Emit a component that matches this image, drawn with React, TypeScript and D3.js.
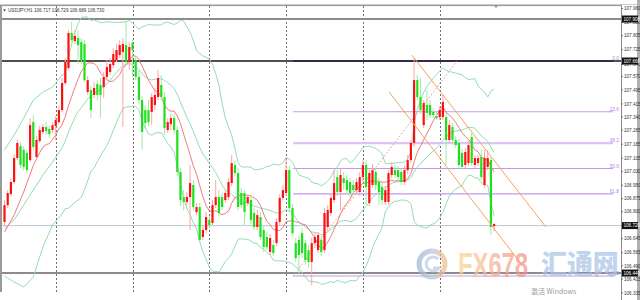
import React from "react";
import * as d3 from "d3";

// ---- USDJPY H1 candles ----
const opens = [106.741,106.837,106.900,106.969,107.106,107.174,107.152,107.135,107.094,107.311,107.112,107.203,107.255,107.283,107.272,107.266,107.289,107.311,107.380,107.534,107.620,107.820,107.774,107.791,107.768,107.757,107.483,107.494,107.466,107.529,107.523,107.511,107.569,107.597,107.637,107.666,107.694,107.711,107.751,107.654,107.763,107.666,107.569,107.437,107.380,107.380,107.369,107.409,107.454,107.523,107.454,107.266,107.300,107.334,107.266,107.026,106.883,106.855,106.883,106.952,106.797,106.826,106.655,106.695,106.752,106.735,106.837,106.883,106.883,106.866,106.883,106.963,107.066,107.020,106.906,106.906,106.849,106.866,106.792,106.712,106.769,106.695,106.655,106.569,106.609,106.620,106.741,106.878,106.906,107.037,106.820,106.620,106.638,106.677,106.620,106.580,106.512,106.620,106.580,106.638,106.580,106.712,106.792,106.866,106.997,106.912,106.991,106.980,106.969,106.952,106.923,106.912,106.997,107.066,106.849,106.952,107.026,106.969,106.940,106.855,106.855,107.009,107.037,107.037,107.026,106.969,107.037,107.094,107.192,107.551,107.454,107.294,107.409,107.409,107.369,107.346,107.340,107.340,107.340,107.209,107.283,107.209,107.192,107.135,107.066,107.077,107.226,107.066,107.077,107.112,106.952,107.055,107.094,106.717];
const highs = [106.866,106.923,106.991,107.129,107.209,107.197,107.174,107.152,107.334,107.351,107.232,107.289,107.300,107.311,107.289,107.311,107.346,107.403,107.563,107.677,107.837,107.883,107.837,107.837,107.791,107.780,107.574,107.517,107.540,107.551,107.563,107.597,107.666,107.677,107.734,107.757,107.780,107.791,107.883,107.768,107.780,107.689,107.609,107.460,107.409,107.437,107.477,107.506,107.609,107.580,107.483,107.334,107.357,107.357,107.289,107.049,106.923,106.912,107.066,106.980,106.849,106.849,106.718,106.797,106.775,106.866,106.980,106.923,106.906,106.923,106.991,107.123,107.094,107.049,106.935,106.923,106.900,106.889,106.820,106.809,106.797,106.718,106.683,106.672,106.638,106.763,106.900,106.952,107.112,107.060,106.843,106.649,106.666,106.706,106.638,106.609,106.649,106.677,106.683,106.660,106.820,106.837,106.900,107.037,107.037,107.049,107.026,107.009,106.991,106.980,106.991,107.026,107.094,107.094,107.049,107.072,107.049,106.991,106.969,106.946,107.037,107.083,107.066,107.060,107.049,107.060,107.123,107.209,107.677,107.580,107.563,107.437,107.494,107.437,107.391,107.369,107.403,107.466,107.363,107.323,107.306,107.232,107.214,107.157,107.163,107.203,107.249,107.123,107.123,107.152,107.152,107.152,107.112,106.729];
const lows = [106.718,106.820,106.889,106.957,107.094,107.049,107.037,107.020,107.083,107.152,107.094,107.192,107.243,107.237,107.220,107.249,107.209,107.300,107.369,107.523,107.609,107.768,107.757,107.643,107.643,107.540,107.466,107.334,107.449,107.437,107.334,107.449,107.551,107.580,107.620,107.654,107.677,107.283,107.637,107.609,107.569,107.551,107.414,107.152,107.277,107.289,107.294,107.380,107.437,107.437,107.237,107.249,107.266,107.237,107.003,106.832,106.809,106.837,106.695,106.809,106.780,106.620,106.638,106.677,106.706,106.723,106.820,106.775,106.809,106.849,106.866,106.946,107.003,106.809,106.820,106.718,106.832,106.729,106.695,106.695,106.638,106.569,106.580,106.552,106.546,106.603,106.723,106.866,106.889,106.797,106.660,106.512,106.438,106.535,106.495,106.478,106.380,106.603,106.563,106.546,106.563,106.695,106.775,106.849,106.889,106.809,106.923,106.900,106.883,106.900,106.900,106.889,106.969,106.837,106.832,106.935,106.923,106.837,106.837,106.837,106.837,106.991,106.991,106.969,106.952,106.952,107.014,107.077,107.169,107.437,107.357,107.277,107.323,107.334,107.334,107.323,107.323,107.323,107.066,107.192,107.192,107.163,107.049,107.037,107.049,107.060,107.060,107.049,107.060,106.980,106.935,107.037,106.666,106.689];
const closes = [106.837,106.906,106.969,107.106,107.192,107.066,107.055,107.037,107.294,107.169,107.209,107.266,107.283,107.260,107.243,107.294,107.323,107.380,107.534,107.654,107.820,107.780,107.803,107.751,107.666,107.551,107.551,107.380,107.506,107.466,107.466,107.569,107.626,107.643,107.700,107.723,107.751,107.757,107.654,107.740,107.723,107.569,107.437,107.255,107.306,107.311,107.454,107.466,107.563,107.454,107.277,107.311,107.334,107.266,107.026,106.866,106.855,106.883,106.963,106.826,106.826,106.638,106.695,106.769,106.723,106.837,106.883,106.792,106.826,106.906,106.969,107.077,107.020,106.826,106.837,106.797,106.883,106.752,106.712,106.780,106.655,106.597,106.597,106.649,106.563,106.741,106.878,106.923,107.037,106.820,106.677,106.535,106.552,106.563,106.523,106.512,106.620,106.655,106.666,106.569,106.792,106.809,106.878,106.963,106.912,107.009,106.963,106.923,106.906,106.923,106.969,106.997,107.066,106.940,107.020,107.037,106.952,106.912,106.866,106.923,107.020,107.055,107.009,106.997,106.969,107.037,107.094,107.192,107.551,107.454,107.380,107.420,107.363,107.351,107.351,107.334,107.380,107.426,107.209,107.294,107.209,107.180,107.066,107.055,107.140,107.180,107.077,107.106,107.106,106.997,107.106,107.106,106.712,106.730];

// Indicator values before a full 20-bar window exists
const warmIdx = [0, 3, 6, 9, 12, 15, 18];
const warmUpper = [107.152, 107.237, 107.334, 107.437, 107.483, 107.511, 107.580];
const warmMid = [106.706, 106.752, 106.837, 106.923, 107.009, 107.083, 107.163];
const warmLower = [106.432, 106.398, 106.369, 106.426, 106.598, 106.723, 106.786];
const warmRedIdx = [0, 3, 6];
const warmRed = [106.683, 106.780, 106.912];

// axis
const priceTicks = [107.960,107.880,107.805,107.725,107.640,107.570,107.495,107.415,107.340,107.265,107.185,107.105,107.030,106.950,106.875,106.800,106.645,106.565,106.490,106.415,106.335];
const levelLines = [107.900, 107.660, 106.449];
const currentPrice = 106.720;
const daySeparators = [16, 40, 64, 88, 112, 136];

// Fibonacci
const fibHigh = 107.660;
const fibLow = 106.432;
const fibLevels = [0, 23.6, 38.2, 50.0, 61.8, 100.0];
const fibLabels = ["0.0", "23.6", "38.2", "50.0", "61.8", "100.0"];
const fibStartBar = 90.2;
const fibEndBar = 190.2;
const fibTrend: [number, number][] = [[90.2, 106.432], [141.4, 107.660]];

// channel
const channelUpper: [number, number][] = [[127.3, 107.694], [169.2, 106.712]];
const channelLower: [number, number][] = [[120.2, 107.483], [161.7, 106.495]];

const headerText = "USDJPY,H1  106.717 106.729 106.689 106.730";

export default function App() {
  const W = 640, H = 300;
  const N = closes.length;
  const x = d3.scaleLinear().domain([0, 153]).range([4.5, 494.1]);
  const y = d3.scaleLinear().domain([106.335, 107.96]).range([293, 8.5]);
  const axisX = 621;
  const plotL = 2;
  const font = "'Liberation Sans', Arial, sans-serif";

  const mean = (a: number[]) => a.reduce((s, v) => s + v, 0) / a.length;
  const upper: [number, number][] = warmIdx.map((b, k) => [b, warmUpper[k]]);
  const mid: [number, number][] = warmIdx.map((b, k) => [b, warmMid[k]]);
  const lower: [number, number][] = warmIdx.map((b, k) => [b, warmLower[k]]);
  const red: [number, number][] = warmRedIdx.map((b, k) => [b, warmRed[k]]);
  for (let i = 19; i < N; i++) {
    const w = closes.slice(i - 19, i + 1);
    const m = mean(w);
    const sd = Math.sqrt(mean(w.map((v) => (v - m) * (v - m))));
    upper.push([i, m + 2 * sd]);
    mid.push([i, m]);
    lower.push([i, m - 2 * sd]);
  }
  for (let i = 9; i < N; i++) {
    red.push([i, mean(closes.slice(i - 9, i + 1))]);
  }
  const line = d3
    .line<[number, number]>()
    .x((d) => x(d[0]))
    .y((d) => y(d[1]));

  const fibPrice = (lv: number) => fibHigh - (lv / 100) * (fibHigh - fibLow);

  const bandColor = "#93dcb4";

  return (
    <svg
      width={W}
      height={H}
      style={{ position: "absolute", left: 0, top: 0, background: "#fff" }}
      fontFamily={font}
    >
      <rect x={0} y={0} width={W} height={H} fill="#fff" />
      <defs>
        <linearGradient id="fxg" x1="0" x2="1" y1="0" y2="0">
          <stop offset="0" stopColor="#f9d596" />
          <stop offset="1" stopColor="#f2908a" />
        </linearGradient>
        <linearGradient id="logog" x1="0" x2="1" y1="0" y2="0">
          <stop offset="0" stopColor="#9fb6d6" />
          <stop offset="0.55" stopColor="#b8c8dc" />
          <stop offset="1" stopColor="#f5bd85" />
        </linearGradient>
      </defs>

      {/* frame */}
      <rect x={0} y={4.5} width={W} height={1.6} fill="#9a9a9a" />
      <rect x={0} y={5} width={2} height={287} fill="#9a9a9a" />
      <rect x={637} y={0} width={3} height={H} fill="#b0b0b0" />

      {/* day separators */}
      {daySeparators.map((b) => (
        <line
          key={b}
          x1={Math.round(x(b)) + 0.5}
          x2={Math.round(x(b)) + 0.5}
          y1={6}
          y2={292}
          stroke="#707070"
          strokeWidth={1}
          strokeDasharray="2,2"
        />
      ))}

      {/* current price line */}
      <line x1={plotL} x2={axisX} y1={y(currentPrice)} y2={y(currentPrice)} stroke="#b8c8d4" strokeWidth={1} />

      {/* horizontal level lines */}
      <line x1={plotL} x2={axisX} y1={y(levelLines[0])} y2={y(levelLines[0])} stroke="#8c8c8c" strokeWidth={2} />
      <line x1={plotL} x2={axisX} y1={y(levelLines[1])} y2={y(levelLines[1])} stroke="#505050" strokeWidth={1.8} />
      <line x1={plotL} x2={axisX} y1={y(levelLines[2])} y2={y(levelLines[2])} stroke="#8c8c8c" strokeWidth={2} />

      {/* fibonacci */}
      {fibLevels.map((lv, k) => {
        const yy = y(fibPrice(lv));
        const isZero = lv === 0;
        const is382 = lv === 38.2;
        return (
          <g key={lv}>
            <line
              x1={x(fibStartBar)}
              x2={x(fibEndBar)}
              y1={yy}
              y2={yy}
              stroke={isZero ? "#2e1a48" : is382 ? "#dcc4f6" : "#c497ee"}
              strokeWidth={isZero ? 1.6 : is382 ? 2.4 : 1.1}
            />
            <text x={619} y={yy - 1} fontSize={4.8} fill="#b585e6" textAnchor="end">
              {fibLabels[k]}
            </text>
          </g>
        );
      })}
      <path d={line(fibTrend) || ""} stroke="#ec8c8c" strokeWidth={1} strokeDasharray="1.5,2" fill="none" />

      {/* bollinger + ma */}
      <path d={line(upper) || ""} stroke={bandColor} strokeWidth={1} fill="none" />
      <path d={line(lower) || ""} stroke={bandColor} strokeWidth={1} fill="none" />
      <path d={line(mid) || ""} stroke={bandColor} strokeWidth={1} fill="none" />
      <path d={line(red) || ""} stroke="#f07a7a" strokeWidth={1} fill="none" />

      {/* candles */}
      {closes.map((c, i) => {
        const o = opens[i];
        const up = c >= o;
        const cx = x(i);
        const yt = y(Math.max(o, c));
        const yb = y(Math.min(o, c));
        return (
          <g key={i}>
            <line
              x1={cx}
              x2={cx}
              y1={y(highs[i])}
              y2={y(lows[i])}
              stroke={up ? "#ffa4a4" : "#9eeea0"}
              strokeWidth={1}
            />
            <rect
              x={cx - 1.1}
              y={yt}
              width={2.2}
              height={Math.max(1, yb - yt)}
              fill={up ? "#ff1010" : "#1fe01f"}
            />
          </g>
        );
      })}

      {/* channel */}
      <path d={line(channelUpper) || ""} stroke="#f5a45c" strokeWidth={1} fill="none" />
      <path d={line(channelLower) || ""} stroke="#f5a45c" strokeWidth={1} fill="none" />

      {/* header */}
      <path d="M3,9.5 L6,9.5 L4.5,11.5 Z" fill="#333" />
      <text x={8} y={12} fontSize={4.6} fill="#333">
        {headerText}
      </text>
      <path d="M494.5,6 L497.5,6 L496,8 Z" fill="#888" />

      {/* watermark */}
      <g opacity={0.72}>
        <circle cx={432} cy={264} r={13} fill="none" stroke="url(#logog)" strokeWidth={5} />
        <path d="M438,259 A7,7 0 1 0 439,268 L433,268" fill="none" stroke="#c0cbe0" strokeWidth={3} />
        <text
          transform="translate(458,277) scale(0.68,1)"
          fontSize={35}
          fontWeight="bold"
          fill="url(#fxg)"
        >
          FX678
        </text>
        <text
          transform="translate(541,274) scale(0.96,1)"
          fontSize={27}
          fontWeight={900}
          fill="#a9c4e8"
          fontFamily="'Noto Sans CJK SC', sans-serif"
        >
          汇通网
        </text>
      </g>
      <text x={531} y={294} fontSize={7} fill="#9c9c9c" fontFamily="'Noto Sans CJK SC', sans-serif">
        激活 Windows
      </text>

      {/* right axis */}
      <rect x={axisX} y={5} width={16} height={295} fill="#fff" />
      <line x1={axisX + 0.5} x2={axisX + 0.5} y1={5} y2={300} stroke="#8a8a8a" strokeWidth={1} />
      {priceTicks.map((t) => (
        <g key={t}>
          <line x1={axisX} x2={axisX + 2} y1={y(t)} y2={y(t)} stroke="#666" strokeWidth={0.8} />
          <text x={axisX + 3} y={y(t) + 1.7} fontSize={4.6} fill="#333">
            {t.toFixed(3)}
          </text>
        </g>
      ))}
      {[...levelLines, currentPrice].map((t) => (
        <g key={"b" + t}>
          <rect x={axisX + 1} y={y(t) - 3.5} width={16} height={7} fill="#111" />
          <text x={axisX + 2.5} y={y(t) + 1.7} fontSize={4.6} fill="#fff">
            {t.toFixed(3)}
          </text>
        </g>
      ))}
    </svg>
  );
}
